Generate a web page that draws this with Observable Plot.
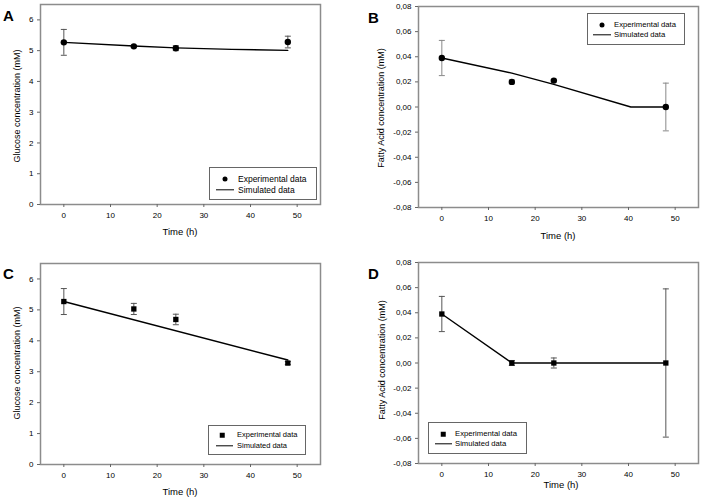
<!DOCTYPE html>
<html><head><meta charset="utf-8">
<script src="https://cdn.jsdelivr.net/npm/d3@7"></script>
<script src="https://cdn.jsdelivr.net/npm/@observablehq/plot@0.6"></script>
<style>
body{margin:0;background:#fff;}
#wrap{position:relative;width:705px;height:501px;font-family:"Liberation Sans",Arial,sans-serif;color:#000;overflow:hidden;}
.panel{position:absolute;}
.panel svg{overflow:visible;}
.tag{position:absolute;font-weight:bold;font-size:15px;line-height:1;}
.xt{position:absolute;font-size:9.5px;line-height:1;transform:translate(-50%,-50%);white-space:nowrap;}
.yt{position:absolute;font-size:9px;line-height:1;transform:translate(-50%,-50%) rotate(-90deg);white-space:nowrap;}
.leg{position:absolute;border:1px solid #666;background:#fff;box-sizing:border-box;}
.leg .t{position:absolute;line-height:1;transform:translateY(-50%);white-space:nowrap;}
.leg .ln{position:absolute;height:1.4px;background:#000;transform:translateY(-50%);}
.leg .mk{position:absolute;background:#000;transform:translate(-50%,-50%);}
</style>
</head><body>
<div id="wrap"></div>
<script>
// ---- data ----
const time = [0, 15, 24, 48];
const xTicks = [0, 10, 20, 30, 40, 50];
const glucoseTicks = [0, 1, 2, 3, 4, 5, 6];
const fattyTicks = [-0.08, -0.06, -0.04, -0.02, 0, 0.02, 0.04, 0.06, 0.08];

const glucoseA = [5.27, 5.14, 5.08, 5.28];
const glucoseAErr = [0.42, 0.03, 0.08, 0.19];
const simTimeA = [0, 15, 24, 36, 48];
const simA = [5.27, 5.15, 5.09, 5.04, 5.01];

const fattyB = [0.039, 0.020, 0.021, 0.000];
const fattyBErr = [0.014, 0.0015, 0.001, 0.019];
const simTimeB = [0, 15, 24, 40.5, 48];
const simB = [0.039, 0.027, 0.018, 0, 0];

const glucoseC = [5.27, 5.03, 4.69, 3.28];
const glucoseCErr = [0.42, 0.18, 0.17, 0.05];
const simTimeC = [0, 48];
const simC = [5.27, 3.38];

const fattyD = [0.039, 0.000, 0.000, 0.000];
const fattyDErr = [0.014, 0.002, 0.004, 0.059];
const simTimeD = [0, 15, 24, 48];
const simD = [0.039, 0, 0, 0];

const legendLabels = ["Experimental data", "Simulated data"];
const xTitle = "Time (h)";
const glucoseTitle = "Glucose concentration (mM)";
const fattyTitle = "Fatty Acid concentration (mM)";

// ---- helpers ----
const capSymbol = {draw(ctx, size) { const w = Math.sqrt(size / Math.PI); ctx.moveTo(-w, 0); ctx.lineTo(w, 0); }};
const fmtComma = d => (d < 0 ? "-" : "") + Math.abs(d).toFixed(2).replace(".", ",");
const wrap = document.getElementById("wrap");

function add(tag, cls, css, text) {
  const e = document.createElement(tag);
  if (cls) e.className = cls;
  Object.assign(e.style, css);
  if (text != null) e.textContent = text;
  return e;
}

function panel(cfg) {
  const exp = time.map((t, i) => ({t, v: cfg.vals[i], lo: cfg.vals[i] - cfg.err[i], hi: cfg.vals[i] + cfg.err[i]}));
  const sim = cfg.simT.map((t, i) => ({t, v: cfg.simV[i]}));
  const chart = Plot.plot({
    width: cfg.w, height: cfg.h,
    marginLeft: cfg.m[0], marginRight: cfg.m[1], marginTop: cfg.m[2], marginBottom: cfg.m[3],
    x: {domain: [-5, 55]},
    y: {domain: cfg.yDomain},
    style: {fontFamily: "Liberation Sans, Arial, sans-serif", fontSize: "8px", color: "black", background: "transparent"},
    marks: [
      Plot.frame({stroke: "#8c8c8c", strokeWidth: 1.5}),
      Plot.axisX({ticks: xTicks, tickSize: 3, tickPadding: 5, tickFormat: d => String(d), label: null, stroke: "#666"}),
      Plot.axisY({ticks: cfg.yTicks, tickSize: 3, tickPadding: 4, tickFormat: cfg.fmt, label: null, stroke: "#666"}),
      Plot.ruleX(exp, {x: "t", y1: "lo", y2: "hi", stroke: cfg.errColor, strokeWidth: 1}),
      Plot.dot(exp, {x: "t", y: "lo", symbol: capSymbol, r: 3, stroke: cfg.errColor, strokeWidth: 1, fill: "none"}),
      Plot.dot(exp, {x: "t", y: "hi", symbol: capSymbol, r: 3, stroke: cfg.errColor, strokeWidth: 1, fill: "none"}),
      Plot.line(sim, {x: "t", y: "v", stroke: "black", strokeWidth: 1.4}),
      Plot.dot(exp, {x: "t", y: "v", symbol: cfg.symbol, r: cfg.symbol === "circle" ? 3.2 : 3.0, fill: "black", stroke: "none"})
    ]
  });
  const holder = add("div", "panel", {left: cfg.left + "px", top: cfg.top + "px", width: cfg.w + "px", height: cfg.h + "px"});
  holder.appendChild(chart);
  wrap.appendChild(holder);

  wrap.appendChild(add("div", "tag", {left: cfg.tag[1] + "px", top: cfg.tag[2] + "px"}, cfg.tag[0]));
  wrap.appendChild(add("div", "xt", {left: cfg.xt[0] + "px", top: cfg.xt[1] + "px"}, xTitle));
  wrap.appendChild(add("div", "yt", {left: cfg.yt[0] + "px", top: cfg.yt[1] + "px"}, cfg.yTitle));

  const L = cfg.leg;
  const box = add("div", "leg", {left: L.x + "px", top: L.y + "px", width: L.w + "px", height: L.h + "px", fontSize: L.fs + "px"});
  const mkSize = cfg.symbol === "circle" ? 5 : 4.5;
  box.appendChild(add("div", "mk", {left: (L.mx - L.x) + "px", top: (L.r1 - L.y) + "px", width: mkSize + "px", height: mkSize + "px", borderRadius: cfg.symbol === "circle" ? "50%" : "0"}));
  box.appendChild(add("div", "t", {left: (L.tx - L.x) + "px", top: (L.r1 - L.y) + "px"}, legendLabels[0]));
  box.appendChild(add("div", "ln", {left: (L.l0 - L.x) + "px", top: (L.r2 - L.y) + "px", width: (L.l1 - L.l0) + "px"}));
  box.appendChild(add("div", "t", {left: (L.tx - L.x) + "px", top: (L.r2 - L.y) + "px"}, legendLabels[1]));
  wrap.appendChild(box);
}

panel({left: 0, top: 0, w: 352, h: 250, m: [40, 32, 4, 46],
  yDomain: [0, 6.5], yTicks: glucoseTicks, fmt: d => String(d),
  vals: glucoseA, err: glucoseAErr, simT: simTimeA, simV: simA, symbol: "circle", errColor: "#555",
  tag: ["A", 3, 8], xt: [180, 232], yt: [17, 106], yTitle: glucoseTitle,
  leg: {x: 209, y: 167, w: 108, h: 33, fs: 8.5, mx: 224, tx: 237, r1: 178, r2: 189, l0: 215, l1: 233}});

panel({left: 353, top: 0, w: 352, h: 250, m: [65, 7, 6, 43],
  yDomain: [-0.08, 0.08], yTicks: fattyTicks, fmt: fmtComma,
  vals: fattyB, err: fattyBErr, simT: simTimeB, simV: simB, symbol: "circle", errColor: "#888",
  tag: ["B", 368, 10], xt: [558, 236], yt: [381, 108], yTitle: fattyTitle,
  leg: {x: 587, y: 13, w: 98, h: 32, fs: 7.7, mx: 601, tx: 613, r1: 24, r2: 34, l0: 592, l1: 610}});

panel({left: 0, top: 250, w: 352, h: 251, m: [40, 32, 13, 37],
  yDomain: [0, 6.5], yTicks: glucoseTicks, fmt: d => String(d),
  vals: glucoseC, err: glucoseCErr, simT: simTimeC, simV: simC, symbol: "square", errColor: "#555",
  tag: ["C", 3, 266], xt: [180, 492], yt: [17, 363], yTitle: glucoseTitle,
  leg: {x: 208, y: 425, w: 98, h: 30, fs: 7.5, mx: 221, tx: 236, r1: 434, r2: 445, l0: 215, l1: 232}});

panel({left: 353, top: 250, w: 352, h: 251, m: [65, 7, 12, 38],
  yDomain: [-0.08, 0.08], yTicks: fattyTicks, fmt: fmtComma,
  vals: fattyD, err: fattyDErr, simT: simTimeD, simV: simD, symbol: "square", errColor: "#555",
  tag: ["D", 368, 266], xt: [561, 485], yt: [382, 360], yTitle: fattyTitle,
  leg: {x: 428, y: 422, w: 99, h: 32, fs: 7.7, mx: 442, tx: 454, r1: 433, r2: 443, l0: 434, l1: 451}});
</script>
</body></html>
